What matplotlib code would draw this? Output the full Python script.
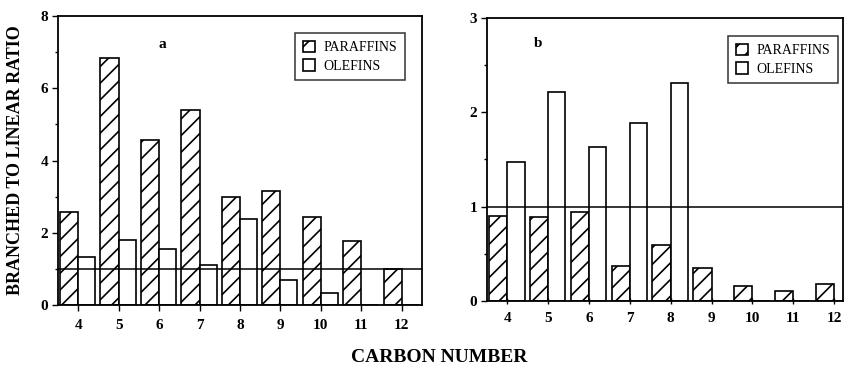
import matplotlib
matplotlib.use("Agg")
import matplotlib.pyplot as plt
import numpy as np

plt.rcParams['font.family'] = ['Liberation Serif', 'DejaVu Serif']
plt.rcParams['hatch.linewidth'] = 1.2

carbon = [4, 5, 6, 7, 8, 9, 10, 11, 12]

# panel a
paraffins_a = [2.58, 6.85, 4.57, 5.40, 2.98, 3.16, 2.43, 1.76, 1.01]
olefins_a = [1.34, 1.80, 1.55, 1.10, 2.38, 0.69, 0.32, 0.0, 0.0]

# panel b
paraffins_b = [0.90, 0.89, 0.94, 0.37, 0.59, 0.35, 0.16, 0.11, 0.18]
olefins_b = [1.47, 2.21, 1.63, 1.89, 2.31, 0.0, 0.0, 0.0, 0.0]

wp = 0.45
wo = 0.42


def draw_panel(ax, par, ole, ymax, ystep, tag, tagpos, legpos, xright, tickdir):
    x = np.array(carbon, dtype=float)
    ax.bar(x, par, width=-wp, align='edge', facecolor='white',
           edgecolor='black', hatch='//', linewidth=1.2, label='PARAFFINS')
    ax.bar(x, ole, width=wo, align='edge', facecolor='white',
           edgecolor='black', linewidth=1.2, label='OLEFINS')
    ax.axhline(1.0, color='black', linewidth=1.1)
    ax.set_xlim(x[0] - 0.5, xright)
    ax.set_ylim(0, ymax)
    ax.set_xticks(carbon)
    ax.set_xticklabels([str(c) for c in carbon], fontweight='bold', fontsize=11)
    ax.set_yticks(np.arange(0, ymax + 0.01, ystep))
    ax.set_yticklabels(['%d' % v for v in np.arange(0, ymax + 0.01, ystep)],
                       fontweight='bold', fontsize=11)
    ax.set_yticks(np.arange(ystep / 2.0, ymax, ystep), minor=True)
    ax.tick_params(axis='x', direction=tickdir, length=4, width=1.0, pad=6)
    ax.tick_params(axis='y', direction='out', length=4, width=1.0, pad=3)
    ax.tick_params(axis='y', which='minor', direction='out', length=2, width=1.0)
    for s in ax.spines.values():
        s.set_linewidth(1.3)
    ax.text(tagpos[0], tagpos[1], tag, fontsize=11, fontweight='bold',
            ha='center', va='center')
    leg = ax.legend(loc='upper right', bbox_to_anchor=legpos, fancybox=False,
                    frameon=True, edgecolor='black', fontsize=10,
                    handlelength=0.9, handleheight=0.9, handletextpad=0.6,
                    borderpad=0.55, labelspacing=0.35, borderaxespad=0)
    leg.get_frame().set_linewidth(1.1)


fig = plt.figure(figsize=(8.44, 3.69), dpi=100)
ax1 = fig.add_axes([0.0687, 0.1734, 0.4313, 0.7832])
ax2 = fig.add_axes([0.577, 0.1843, 0.4218, 0.767])

draw_panel(ax1, paraffins_a, olefins_a, 8, 2, 'a', (6.07, 7.2),
           (0.953, 0.941), 12.5, 'out')
draw_panel(ax2, paraffins_b, olefins_b, 3, 1, 'b', (4.76, 2.73),
           (0.986, 0.936), 12.22, 'inout')

fig.text(0.018, 0.565, 'BRANCHED TO LINEAR RATIO', rotation=90,
         fontsize=13, fontweight='bold', ha='center', va='center')
fig.text(0.52, 0.03, 'CARBON NUMBER', fontsize=14, fontweight='bold',
         ha='center', va='center')

fig.savefig('out.png', dpi=100)
